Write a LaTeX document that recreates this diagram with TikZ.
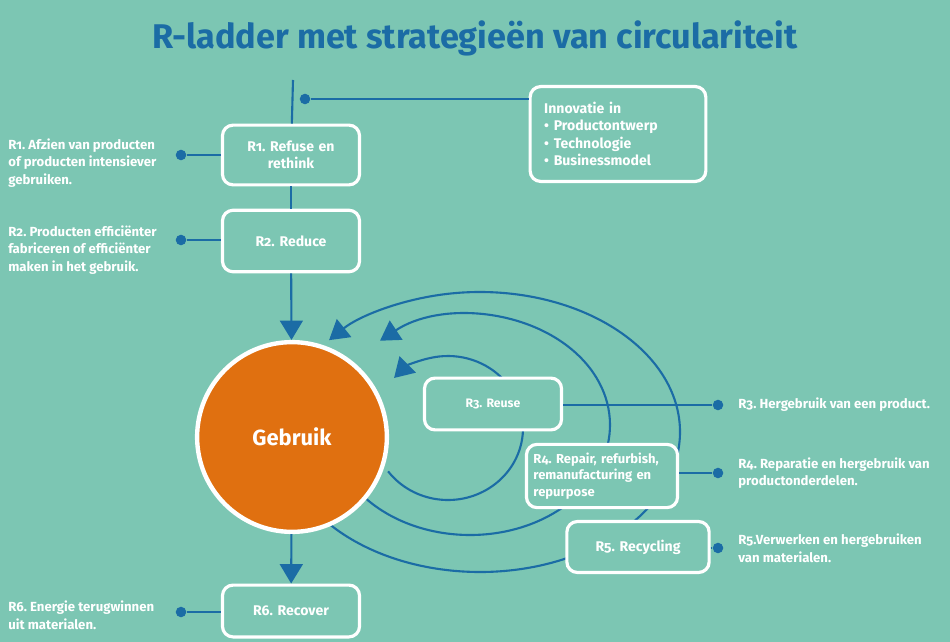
\documentclass[tikz,border=0pt]{standalone}
\usepackage{fontspec}
\setmainfont{Fira Sans}[Numbers=OldStyle]
\usetikzlibrary{arrows.meta}
\definecolor{bg}{HTML}{7CC6B3}
\definecolor{dblue}{HTML}{1B6CA5}
\definecolor{org}{HTML}{E07010}
\frenchspacing
\begin{document}
\begin{tikzpicture}[x=0.02cm,y=0.02cm,
 box/.style={draw=white,line width=1.8pt,rounded corners=6pt,fill=bg,text=white,inner sep=3pt,font=\fontsize{8}{10}\selectfont\bfseries},
 lbl/.style={text=white,font=\fontsize{7.5}{10}\selectfont\bfseries,align=left,anchor=west,inner sep=0},
 dot/.style={circle,fill=dblue,inner sep=0,minimum size=6pt},
 ln/.style={dblue,line width=1.2pt},
 arr/.style={ln,-{Triangle[width=13pt,length=11pt]}}]
\fill[bg] (0,0) rectangle (950,-642);
\useasboundingbox (0,0) rectangle (950,-642);
\node[text=dblue,font=\fontsize{19.5}{22}\selectfont\bfseries] (title) at (475,-38) {R-ladder met strategieën van circulariteit};
% loops
\draw[arr] (480,-432) ++(-139:200 and 140) arc[start angle=-139,end angle=139,x radius=200,y radius=140];
\draw[arr] (470,-425) ++(-140:140 and 110) arc[start angle=-140,end angle=130,x radius=140,y radius=110];
\draw[arr] (448,-428) ++(-143:75 and 72) arc[start angle=-143,end angle=136,x radius=75,y radius=72];
% main column
\coordinate (top) at (293,-80);
\node[box,minimum width=78pt,text width=70pt,align=center,minimum height=34pt] (r1) at (291,-155) {R1. Refuse en\\rethink};
\node[box,minimum width=78pt,text width=62pt,align=center,minimum height=35pt] (r2) at (291,-241) {R2. Reduce};
\node[circle,fill=org,draw=white,line width=2.5pt,minimum size=108pt,text=white,font=\fontsize{12.5}{14}\selectfont\bfseries] (g) at (292,-437) {Gebruik};
\node[box,minimum width=78pt,text width=62pt,align=center,minimum height=29.5pt] (r6) at (291,-611) {R6. Recover};
\draw[ln] (top) -- (r1);
\draw[ln] (r1) -- (r2);
\draw[arr] (r2) -- (g);
\draw[arr] (g) -- (r6);
% innovation
\node[box,minimum width=100pt,text width=84pt,align=left,minimum height=54pt] (inn) at (618,-134) {Innovatie in\\ \textbullet\ Productontwerp\\ \textbullet\ Technologie\\ \textbullet\ Businessmodel};
\node[dot] (di) at (305,-99) {};
\draw[ln] (di) -- (di -| inn.west);
% right boxes
\node[box,minimum width=78pt,text width=66pt,align=center,minimum height=29.5pt,font=\fontsize{7}{9}\selectfont\bfseries] (r3) at (493,-404) {R3. Reuse};
\node[box,minimum width=86pt,text width=78pt,align=left,minimum height=36pt,font=\fontsize{7.4}{9.5}\selectfont\bfseries] (r4) at (602,-476) {R4. Repair, refurbish, remanufacturing en repurpose};
\node[box,minimum width=81pt,text width=70pt,align=center,minimum height=29pt] (r5) at (638,-547) {R5. Recycling};
\node[dot] (d3) at (718,-405) {};
\node[dot] (d4) at (718,-473) {};
\node[dot] (d5) at (718,-548) {};
\draw[ln] (r3.east |- d3) -- (d3);
\draw[ln] (r4.east |- d4) -- (d4);
\draw[ln] (r5.east |- d5) -- (d5);
\node[lbl] (t3) at (738,-405) {R3. Hergebruik van een product.};
\node[lbl] (t4) at (738,-473) {R4. Reparatie en hergebruik van\\productonderdelen.};
\node[lbl] (t5) at (738,-548) {R5.Verwerken en hergebruiken\\ van materialen.};
% left
\node[dot] (d1) at (181,-155) {};
\node[dot] (d2) at (181,-240) {};
\node[dot] (d6) at (181,-612) {};
\draw[ln] (d1) -- (d1 -| r1.west);
\draw[ln] (d2) -- (d2 -| r2.west);
\draw[ln] (d6) -- (d6 -| r6.west);
\node[lbl] (t1) at (8,-163) {R1. Afzien van producten\\of producten intensiever\\gebruiken.};
\node[lbl] (t2) at (8,-250) {R2. Producten efficiënter\\fabriceren of efficiënter\\maken in het gebruik.};
\node[lbl] (t6) at (8,-615) {R6. Energie terugwinnen\\uit materialen.};
\end{tikzpicture}
\end{document}
